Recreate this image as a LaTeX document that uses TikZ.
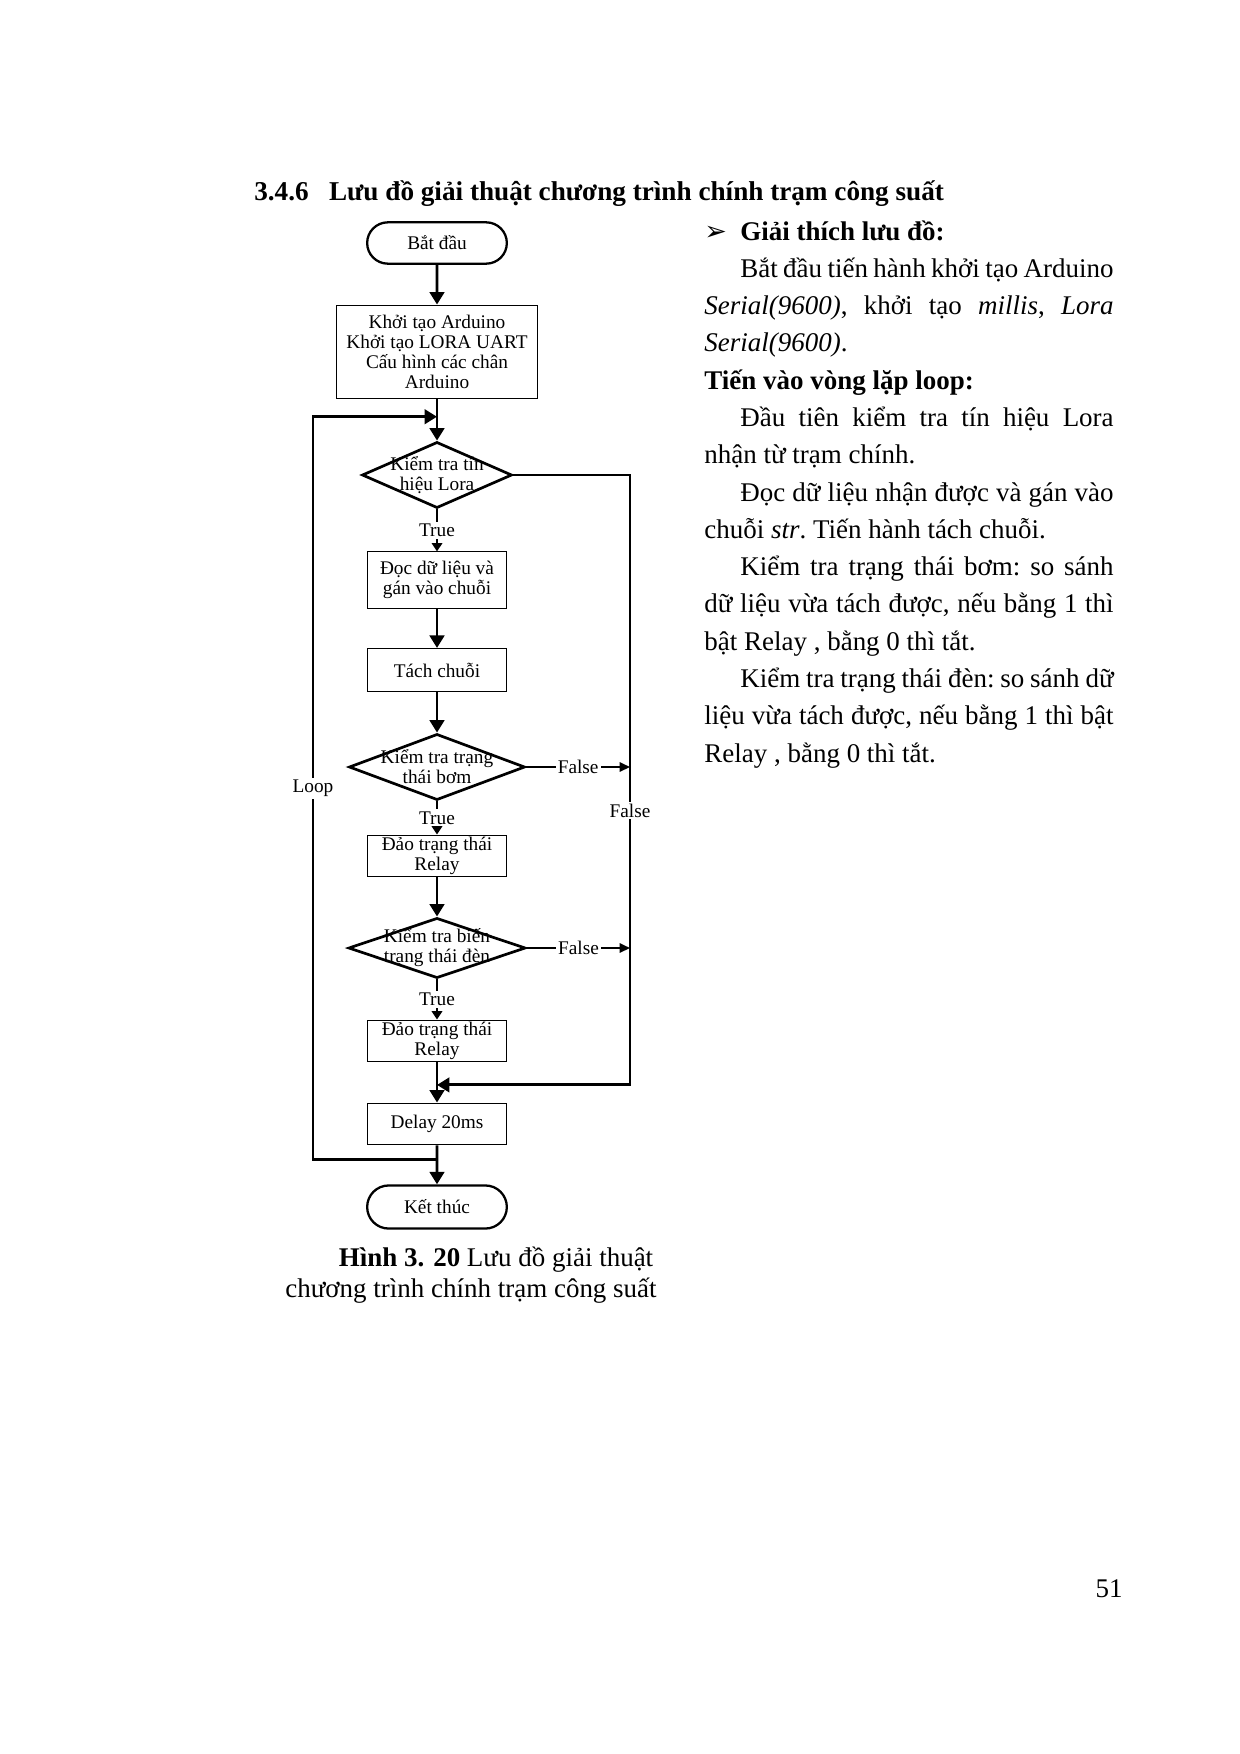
\documentclass[tikz,border=0pt]{standalone}
\usepackage{fontspec}
\setmainfont{Liberation Serif}
\newfontfamily\arrowfont{DejaVu Sans}
\usetikzlibrary{shapes.geometric, shapes.misc, arrows.meta, positioning, calc}

\newcommand{\chartfont}{\fontsize{9.3}{9.7}\selectfont}
\newcommand{\bodyfont}{\fontsize{13}{17.97}\selectfont}

\begin{document}
\begin{tikzpicture}[
    x=0.16935mm, y=-0.16935mm,
    terminal/.style={rounded rectangle, draw, line width=1.1pt,
                     minimum width=26mm, minimum height=7mm, font=\chartfont},
    process/.style={rectangle, draw, line width=0.5pt, minimum width=23.7mm,
                    minimum height=#1, inner sep=0.5pt, align=center, font=\chartfont},
    decision/.style 2 args={diamond, draw, line width=1.3pt, inner sep=0pt,
                    minimum width=#1, minimum height=#2},
    dtext/.style={align=center, font=\chartfont},
    arrow/.style={-{Triangle[length=6pt, width=7pt]}, line width=1.4pt},
    tip/.style={-{Triangle[length=4pt, width=5pt]}, line width=1.4pt},
    falsearrow/.style={-{Triangle[length=5pt, width=4.5pt]}, line width=1pt},
    lbl/.style={fill=white, inner sep=1pt, font=\chartfont},
]
\useasboundingbox (0,0) rectangle (1240,1754);

% Heading
\node[anchor=base west, font=\fontsize{13.1}{16}\selectfont\bfseries] (title) at (247,200)
      {\makebox[36pt][l]{3.4.6}Lưu đồ giải thuật chương trình chính trạm công suất};

% Flowchart
\node[terminal] (start) at (437,243) {Bắt đầu};
\node[process=15.9mm, minimum width=33.9mm] (init) at (437,352)
      {Khởi tạo Arduino\\Khởi tạo LORA UART\\Cấu hình các chân\\Arduino};
\node[decision={25.4mm}{11.2mm}] (d1) at (437,475) {};
\node[dtext] (d1t) at (d1) {Kiểm tra tín\\hiệu Lora};
\node[process=9.5mm] (read) at (437,580) {Đọc dữ liệu và\\gán vào chuỗi};
\node[process=7.3mm] (split) at (437,670) {Tách chuỗi};
\node[decision={29.8mm}{11.2mm}] (d2) at (437,767) {};
\node[dtext] (d2t) at (d2) {Kiểm tra trạng\\thái bơm};
\node[process=7.1mm] (relay1) at (437,856) {Đảo trạng thái\\Relay};
\node[decision={30mm}{10.2mm}] (d3) at (437,948) {};
\node[dtext] (d3t) at (d3) {Kiểm tra biến\\trạng thái đèn};
\node[process=7.1mm] (relay2) at (437,1041) {Đảo trạng thái\\Relay};
\node[process=7.1mm] (delay) at (437,1124) {Delay 20ms};
\node[terminal, minimum height=7.3mm] (stop) at (437,1207) {Kết thúc};

% Helper points
\coordinate (rail) at (630,0);
\coordinate (loopx) at (313,0);
\coordinate (loopin) at ($(init.south)!0.42!(d1.north)$);
\coordinate (merge) at ($(relay2.south)!0.56!(delay.north)$);
\coordinate (loopjoin) at ($(delay.south)!0.37!(stop.north)$);

% Main flow
\draw[arrow] (start) -- (init);
\draw[arrow] (init) -- (d1);
\draw[tip] (d1) -- node[lbl] {True} (read);
\draw[arrow] (read) -- (split);
\draw[arrow] (split) -- (d2);
\draw[tip] (d2) -- node[lbl] {True} (relay1);
\draw[arrow] (relay1) -- (d3);
\draw[tip] (d3) -- node[lbl] {True} (relay2);
\draw[arrow] (relay2) -- (delay);
\draw[arrow] (delay) -- (stop);

% False branches
\draw[arrow] (d1.east) -- (d1.east -| rail) -- node[lbl, pos=0.55] {False} (merge -| rail) -- (merge);
\draw[falsearrow] (d2.east) -- node[lbl] {False} (d2.east -| rail);
\draw[falsearrow] (d3.east) -- node[lbl] {False} (d3.east -| rail);

% Loop back
\draw[arrow] (loopjoin) -- (loopjoin -| loopx) -- node[lbl] {Loop} (loopin -| loopx) -- (loopin);

% Explanation
\node[anchor=base west, text width=69.3mm, align=justify, font=\bodyfont, inner sep=0pt] (expl) at (704,240)
      {\setlength{\parindent}{17.3pt}\hyphenpenalty=10000\frenchspacing
       \noindent\makebox[17.3pt][l]{\arrowfont\fontsize{13}{13}\selectfont ➢}\textbf{Giải thích lưu đồ:}\par
       Bắt đầu tiến hành khởi tạo Arduino\linebreak
       \textit{Serial(9600)}, khởi tạo \textit{millis}, \textit{Lora}\linebreak
       \textit{Serial(9600)}.\par
       \noindent\textbf{Tiến vào vòng lặp loop:}\par
       Đầu tiên kiểm tra tín hiệu Lora\linebreak
       nhận từ trạm chính.\par
       Đọc dữ liệu nhận được và gán vào\linebreak
       chuỗi \textit{str}. Tiến hành tách chuỗi.\par
       Kiểm tra trạng thái bơm: so sánh\linebreak
       dữ liệu vừa tách được, nếu bằng 1 thì\linebreak
       bật Relay , bằng 0 thì tắt.\par
       Kiểm tra trạng thái đèn: so sánh dữ\linebreak
       liệu vừa tách được, nếu bằng 1 thì bật\linebreak
       Relay , bằng 0 thì tắt.\par};

% Caption
\node[anchor=base, font=\bodyfont] (capA) at (496,1266) {\textbf{Hình 3. 20} Lưu đồ giải thuật};
\node[anchor=base, font=\bodyfont] (capB) at (471,1297) {chương trình chính trạm công suất};

% Page number
\node[anchor=base, font=\bodyfont] (pageno) at (1109,1597) {51};

\end{tikzpicture}
\end{document}
